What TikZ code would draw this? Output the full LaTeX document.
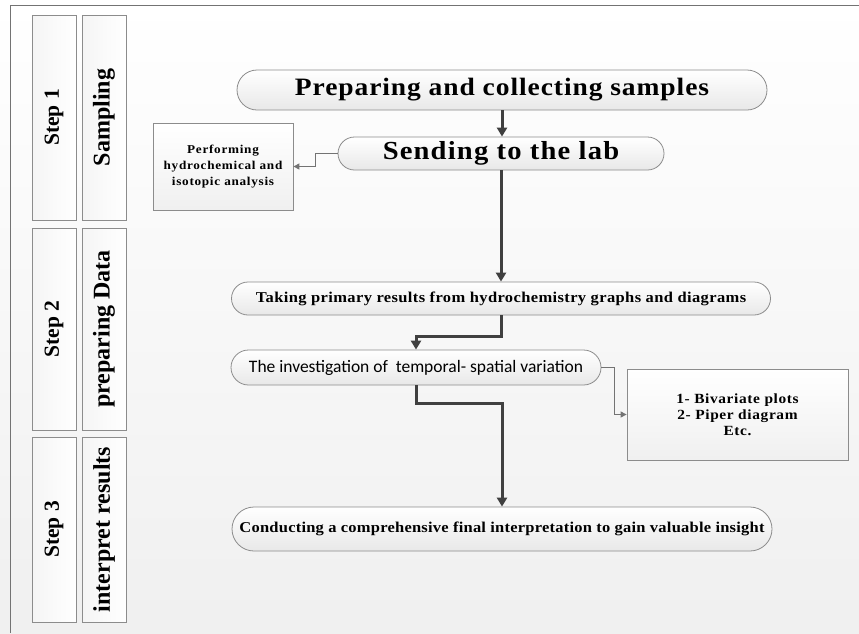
\documentclass[tikz,border=0pt]{standalone}
\usepackage{fontspec}
\setmainfont{Liberation Serif}
\newfontfamily\calib{Carlito}
\usetikzlibrary{arrows.meta,shapes.misc}
\begin{document}
\begin{tikzpicture}[x=1pt,y=-1pt,
  pill/.style={rounded rectangle, draw=black!45, line width=0.8pt, top color=white, bottom color=black!9, inner sep=0pt, align=center},
  plainbox/.style={rectangle, draw=black!45, line width=0.8pt, top color=white, bottom color=black!6, inner sep=0pt, align=center},
  sidebox/.style={rectangle, draw=black!45, line width=0.8pt, left color=black!4, right color=white, inner sep=0pt, rotate=90},
  stepfont/.style={font=\bfseries\fontsize{21.5}{24}\selectfont},
  phasefont/.style={font=\bfseries\fontsize{24}{26}\selectfont},
  bigarrow/.style={draw=black!75, line width=3pt, -{Triangle[width=10pt,length=9pt]}},
  smallarrow/.style={draw=black!55, line width=1.1pt, -{Triangle[width=6pt,length=6pt]}}]
\shade[top color=white, bottom color=black!6] (0,0) rectangle (859,633);
\useasboundingbox (0,0) rectangle (859,633);
\draw[black!55, line width=1pt] (10,633) -- (10,5) -- (859,5);

% side columns
\node[sidebox, stepfont, minimum width=205pt, minimum height=44pt] (s1) at (54,117.5) {Step 1};
\node[sidebox, stepfont, minimum width=202pt, minimum height=44pt] (s2) at (54,329) {Step 2};
\node[sidebox, stepfont, minimum width=185pt, minimum height=44pt] (s3) at (54,529.5) {Step 3};
\node[sidebox, phasefont, minimum width=205pt, minimum height=44pt] (p1) at (104,117.5) {Sampling};
\node[sidebox, phasefont, minimum width=202pt, minimum height=44pt] (p2) at (104,329) {preparing Data};
\node[sidebox, phasefont, minimum width=185pt, minimum height=44pt] (p3) at (104,529.5) {interpret results};

% main flow
\node[pill, minimum width=530pt, minimum height=40pt, font=\bfseries\fontsize{25}{28}\selectfont\addfontfeature{FakeStretch=1.1,LetterSpace=3.7}] (prep) at (502,90) {Preparing and collecting samples};
\node[pill, minimum width=326pt, minimum height=33pt, font=\bfseries\fontsize{26}{28}\selectfont\addfontfeature{FakeStretch=1.1,LetterSpace=4.5}] (send) at (501,153.5) {Sending to the lab};
\node[plainbox, minimum width=140pt, minimum height=87pt, font=\bfseries\fontsize{12}{16}\selectfont\addfontfeature{FakeStretch=1.1,LetterSpace=6}] (perf) at (223,166.5) {Performing\\hydrochemical and\\isotopic analysis};
\node[pill, minimum width=539pt, minimum height=33pt, font=\bfseries\fontsize{15}{18}\selectfont\addfontfeature{FakeStretch=1.1,LetterSpace=2.5}] (take) at (501,298.5) {Taking primary results from hydrochemistry graphs and diagrams};
\node[pill, minimum width=370pt, minimum height=35pt, font=\calib\fontsize{17.5}{20}\selectfont] (inv) at (416,367.5) {The investigation of\ \ temporal- spatial variation};
\node[plainbox, minimum width=221pt, minimum height=91pt, font=\bfseries\fontsize{14}{16}\selectfont\addfontfeature{FakeStretch=1.1,LetterSpace=4.5}] (biv) at (737.5,414.5) {1- Bivariate plots\\2- Piper diagram\\Etc.};
\node[pill, minimum width=540pt, minimum height=44pt, font=\bfseries\fontsize{15}{18}\selectfont\addfontfeature{FakeStretch=1.1,LetterSpace=1.5}] (final) at (502,529) {Conducting a comprehensive final interpretation to gain valuable insight};

% connectors
\draw[bigarrow] (prep.south) -- (prep.south |- send.north);
\draw[bigarrow] (send.south) -- (send.south |- take.north);
\draw[bigarrow] (take.south) -- ++(0,21) -| (inv.north);
\draw[bigarrow] (inv.south) -- ++(0,18) -| (final.north);
\draw[smallarrow] (send.west) -- ++(-22,0) |- (perf.east);
\draw[smallarrow] (inv.east) -- ++(13,0) |- (biv.west);
\end{tikzpicture}
\end{document}
